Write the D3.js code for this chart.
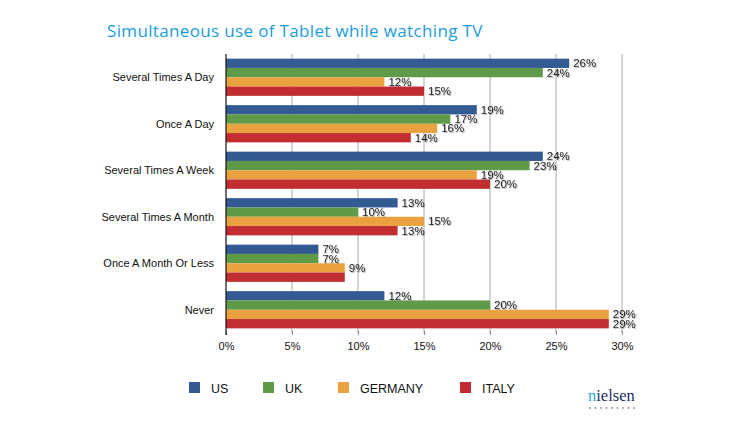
<!DOCTYPE html>
<html>
<head>
<meta charset="utf-8">
<script src="https://cdn.jsdelivr.net/npm/d3@7"></script>
<style>
  html, body { margin: 0; padding: 0; background: #fff; }
  svg { display: block; }
</style>
</head>
<body>
<svg id="chart" width="750" height="422"></svg>
<script>
const categories = ["Several Times A Day", "Once A Day", "Several Times A Week", "Several Times A Month", "Once A Month Or Less", "Never"];
const seriesNames = ["US", "UK", "GERMANY", "ITALY"];
const US = [26, 19, 24, 13, 7, 12];
const UK = [24, 17, 23, 10, 7, 20];
const GERMANY = [12, 16, 19, 15, 9, 29];
const ITALY = [15, 14, 20, 13, 9, 29];
const showLabel = [
  [true, true, true, true, true, true],
  [true, true, true, true, true, true],
  [true, true, true, true, true, true],
  [true, true, true, true, false, true]
];
const xTicks = [0, 5, 10, 15, 20, 25, 30];
const colors = ["#335a92", "#5e9a47", "#e9a23f", "#c22d31"];

const seriesValues = [US, UK, GERMANY, ITALY];
const svg = d3.select("#chart");

svg.append("text")
  .attr("x", 107).attr("y", 37)
  .attr("font-family", "Open Sans, sans-serif")
  .attr("font-size", 17)
  .attr("letter-spacing", 0.35)
  .attr("fill", "#1a9ddb")
  .text("Simultaneous use of Tablet while watching TV");

const x = d3.scaleLinear().domain([0, 30]).range([226, 622]);
const y = d3.scaleBand().domain(categories).range([54, 333]).paddingInner(0.2).paddingOuter(0.1);
const ySub = d3.scaleBand().domain(seriesNames).range([0, y.bandwidth()]);

// flat records
const records = [];
categories.forEach((c, ci) => {
  seriesNames.forEach((s, si) => {
    records.push({ cat: c, series: s, si: si, value: seriesValues[si][ci], show: showLabel[si][ci] });
  });
});

// grid
svg.append("g").selectAll("line").data(xTicks.slice(1)).join("line")
  .attr("x1", d => x(d)).attr("x2", d => x(d))
  .attr("y1", 54).attr("y2", 333)
  .attr("stroke", "#a8a8a8").attr("stroke-width", 1);

// bars
svg.append("g").selectAll("rect").data(records).join("rect")
  .attr("x", x(0))
  .attr("y", d => y(d.cat) + ySub(d.series))
  .attr("height", ySub.bandwidth())
  .attr("width", d => x(d.value) - x(0))
  .attr("fill", d => colors[d.si]);

// labels
const defs = svg.append("defs");
const f = defs.append("filter").attr("id", "sh").attr("x", "-20%").attr("y", "-20%").attr("width", "140%").attr("height", "140%");
f.append("feDropShadow").attr("dx", 1).attr("dy", 1).attr("stdDeviation", 0.6).attr("flood-color", "#000").attr("flood-opacity", 0.25);

svg.append("g").selectAll("text").data(records.filter(d => d.show)).join("text")
  .attr("x", d => x(d.value) + 4)
  .attr("y", d => y(d.cat) + ySub(d.series) + ySub.bandwidth() / 2 + 4)
  .attr("font-family", "Liberation Sans, Arial, sans-serif")
  .attr("font-size", 11.5)
  .attr("fill", "#222")
  .attr("filter", "url(#sh)")
  .text(d => d.value + "%");

// category labels
svg.append("g").selectAll("text").data(categories).join("text")
  .attr("x", 214)
  .attr("y", c => y(c) + y.bandwidth() / 2 + 4)
  .attr("text-anchor", "end")
  .attr("font-family", "Liberation Sans, Arial, sans-serif")
  .attr("font-size", 11)
  .attr("fill", "#111")
  .text(c => c);

// x axis
const axis = svg.append("g").attr("transform", "translate(0,333)")
  .call(d3.axisBottom(x).tickValues(xTicks).tickSize(4).tickFormat(d => d + "%"));
axis.select(".domain").remove();
axis.selectAll(".tick line").attr("stroke", "#888").attr("transform", "translate(0,-2)");
axis.selectAll(".tick text")
  .attr("font-family", "Liberation Sans, Arial, sans-serif")
  .attr("font-size", 11)
  .attr("fill", "#111")
  .attr("dy", "0.9em");

// y axis line
svg.append("line").attr("x1", x(0)).attr("x2", x(0)).attr("y1", 54).attr("y2", 335)
  .attr("stroke", "#111").attr("stroke-width", 1.2);

// legend
const legendX = [189, 263, 338, 460];
const legend = svg.append("g").selectAll("g").data(seriesNames).join("g")
  .attr("transform", (d, i) => `translate(${legendX[i]},382)`);
legend.append("rect").attr("width", 11).attr("height", 11).attr("fill", (d, i) => colors[i]);
legend.append("text").attr("x", 22).attr("y", 10.5)
  .attr("font-family", "Liberation Sans, Arial, sans-serif")
  .attr("font-size", 12.5)
  .attr("fill", "#111")
  .text(d => d);

// nielsen logo
const logo = svg.append("g").attr("transform", "translate(588,401)");
const lt = logo.append("text")
  .attr("font-family", "Liberation Serif, Times New Roman, serif")
  .attr("font-size", 16.5)
  .attr("fill", "#1c2f5e");
lt.append("tspan").attr("fill", "#2aa6df").text("n");
lt.append("tspan").text("ielsen");
logo.append("g").selectAll("circle").data(d3.range(9)).join("circle")
  .attr("cx", d => 2 + d * 5.5).attr("cy", 7).attr("r", 0.8).attr("fill", "#555");
</script>
</body>
</html>
